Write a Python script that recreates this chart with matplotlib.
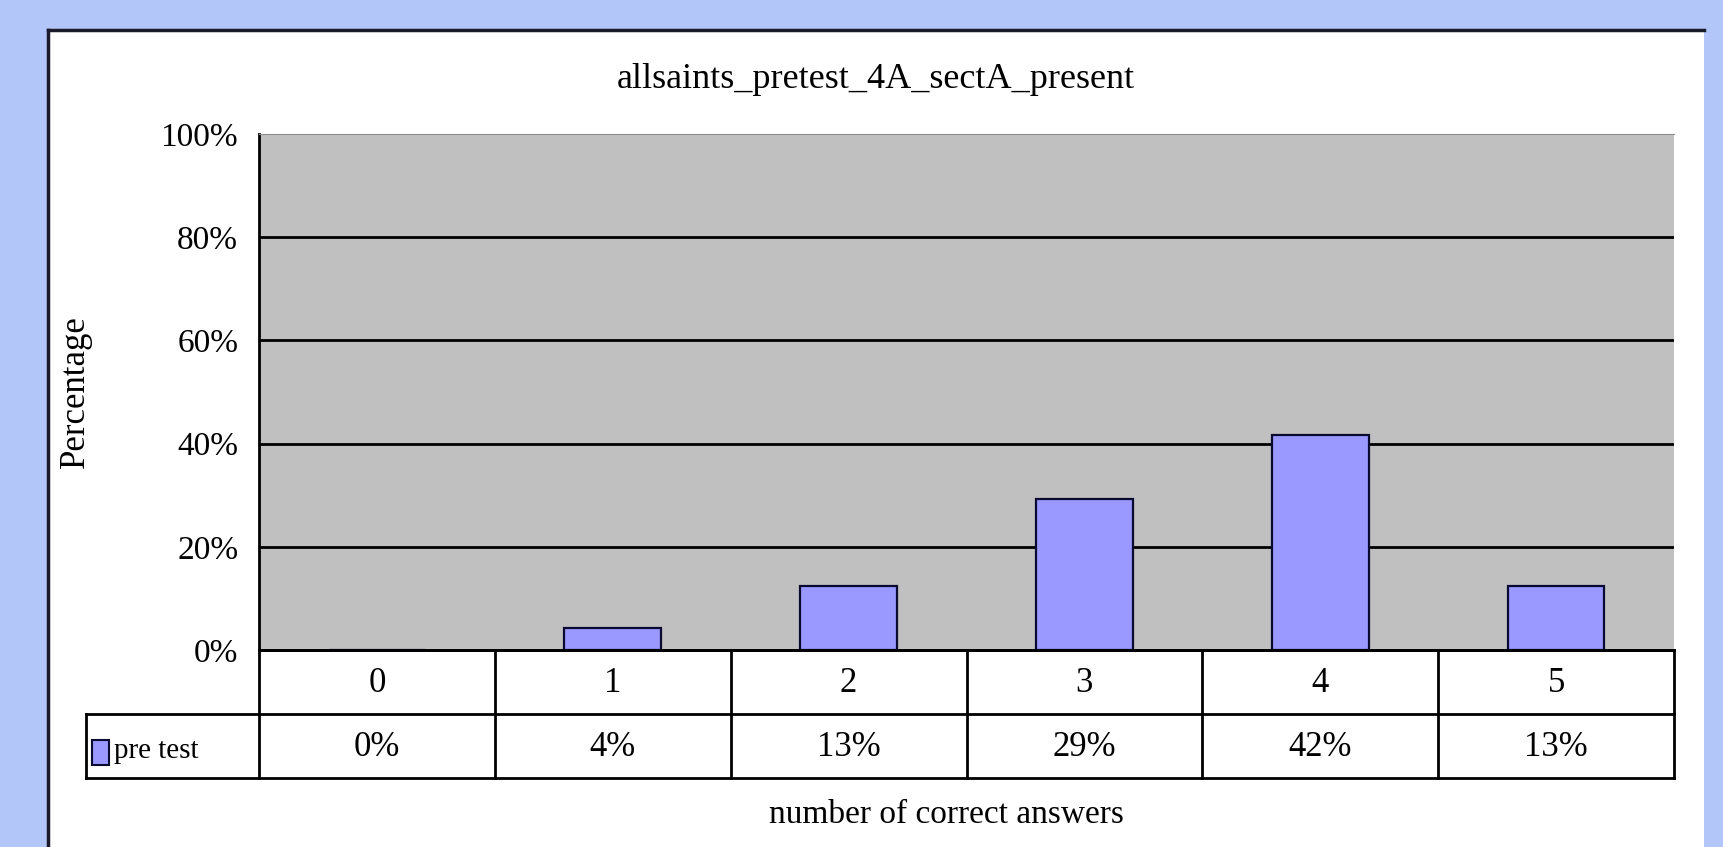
import numpy as np
import matplotlib
matplotlib.use('Agg')
import matplotlib.pyplot as plt
from matplotlib.patches import Rectangle

# dane
categories = ['0', '1', '2', '3', '4', '5']
pct = [0.0, 4.2, 12.5, 29.2, 41.7, 12.5]
pct_labels = ['0%', '4%', '13%', '29%', '42%', '13%']
series_name = 'pre test'
yticks = [0, 20, 40, 60, 80, 100]

title = 'allsaints_pretest_4A_sectA_present'
xlabel = 'number of correct answers'
ylabel = 'Percentage'

bar_color = '#9999FF'
font = 'Liberation Serif'
fs = 25

W, H = 1723, 847
fig = plt.figure(figsize=(W / 100, H / 100), dpi=100)
fig.patch.set_facecolor('#B3C6F9')

# biały panel wykresu
panel = Rectangle((48 / W, 0), (1704 - 48) / W, 1 - 30 / H, transform=fig.transFigure,
                  facecolor='white', edgecolor='none', zorder=-5)
fig.add_artist(panel)
fig.add_artist(plt.Line2D([48 / W, 1704 / W], [1 - 30 / H, 1 - 30 / H], color='#1a1a2a', lw=2.5, zorder=-4))
fig.add_artist(plt.Line2D([48 / W, 48 / W], [0, 1 - 30 / H], color='#1a1a2a', lw=2.5, zorder=-4))

# obszar wykresu (piksele)
px_l, px_r, px_t, px_b = 259, 1674, 134, 650
ax = fig.add_axes([px_l / W, 1 - px_b / H, (px_r - px_l) / W, (px_b - px_t) / H])
ax.set_facecolor('#C0C0C0')

x = np.arange(len(categories))
ax.bar(x, pct, width=0.41, color=bar_color, edgecolor='#0a0a30', linewidth=1.6, zorder=3)
ax.set_xlim(-0.5, len(categories) - 0.5)
ax.set_ylim(0, 100)

for yv in yticks[1:-1]:
    ax.axhline(yv, color='black', lw=2, zorder=2)

ax.set_yticks(yticks)
ax.set_yticklabels([f'{v}%' for v in yticks], fontfamily=font, fontsize=24)
ax.tick_params(axis='y', length=0, pad=15)
ax.set_xticks([])
ax.spines['right'].set_visible(False)
ax.spines['top'].set_color('#909090')
ax.spines['left'].set_linewidth(2)
ax.spines['bottom'].set_linewidth(2)

# tabela danych pod wykresem
leg_w = 0.733
tab_b = 778
ax_t = fig.add_axes([(px_l - leg_w * (px_r - px_l) / 6) / W, 1 - tab_b / H,
                     (px_r - px_l) * (1 + leg_w / 6) / W, (tab_b - px_b) / H])
ax_t.set_xlim(-0.5 - leg_w, len(categories) - 0.5)
ax_t.set_ylim(0, 2)
ax_t.axis('off')

lk = dict(color='black', lw=2, clip_on=False)
ax_t.plot([-0.5 - leg_w, 5.5], [0, 0], **lk)
ax_t.plot([-0.5 - leg_w, 5.5], [1, 1], **lk)
ax_t.plot([-0.5, 5.5], [2, 2], **lk)
ax_t.plot([-0.5 - leg_w, -0.5 - leg_w], [0, 1], **lk)
for i in range(len(categories) + 1):
    ax_t.plot([i - 0.5, i - 0.5], [0, 2], **lk)

for i, (c, t) in enumerate(zip(categories, pct_labels)):
    ax_t.text(i, 1.47, c, ha='center', va='center', fontfamily=font, fontsize=fs)
    ax_t.text(i, 0.47, t, ha='center', va='center', fontfamily=font, fontsize=fs)

ax_t.add_patch(Rectangle((-0.5 - leg_w + 0.025, 0.2), 0.07, 0.4, facecolor=bar_color,
                         edgecolor='#0a0a30', lw=1.5))
ax_t.text(-0.5 - leg_w + 0.12, 0.42, series_name, ha='left', va='center',
          fontfamily=font, fontsize=21)

fig.text((48 + 1704) / 2 / W, 1 - 79 / H, title, ha='center', va='center',
         fontfamily=font, fontsize=26)
fig.text(946 / W, 1 - 815 / H, xlabel, ha='center', va='center',
         fontfamily=font, fontsize=24)
fig.text(75 / W, 1 - 392 / H, ylabel, ha='center', va='center', rotation=90,
         fontfamily=font, fontsize=25)

fig.savefig('out.png', dpi=100, facecolor=fig.get_facecolor())
